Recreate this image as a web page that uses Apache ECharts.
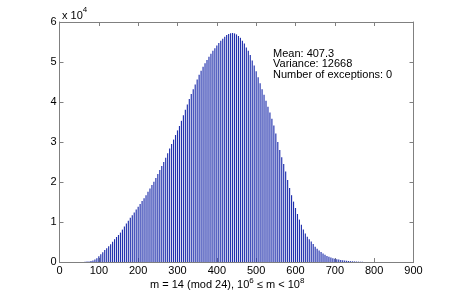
<!DOCTYPE html>
<html><head><meta charset="utf-8">
<script src="https://cdn.jsdelivr.net/npm/echarts@6/dist/echarts.min.js"></script>
<style>html,body{margin:0;padding:0;background:#fff}#c{width:457px;height:294px}</style>
</head><body><div id="c"></div>
<script>
const binStart = 60;
const binStep = 5;
const counts = [
0,50,100,150,250,400,600,950,1450,1950,2450,3000,3450,3950,4450,5050,5700,6250,6750,7350,
8100,8900,9600,10300,11050,11700,12400,13100,13800,14500,15250,15950,16700,17550,18400,19250,
20050,21000,22000,23000,24000,25000,26050,27200,28400,29500,30600,31750,32900,34000,35300,36700,
38050,39400,40750,42000,43200,44400,45600,46800,47800,48800,49700,50500,51300,52050,52800,53450,
54100,54750,55300,55800,56300,56750,57000,57200,57250,57150,56900,56500,56050,55300,54600,53600,
52800,51750,50400,49100,47700,46200,44700,43200,41800,40300,38800,37400,35800,34100,32100,30000,
28000,26200,24500,22600,20500,18500,16700,15100,13500,12000,10600,9300,8100,7100,6300,5700,5100,
4500,3800,3300,2900,2500,2150,1800,1500,1300,1100,950,800,700,600,500,420,350,300,250,200,170,
140,110,90,70,50,30,20
];
const xTicks = [0,100,200,300,400,500,600,700,800,900];
const yTicks = [0,1,2,3,4,5,6];
const statsLines = ['Mean: 407.3','Variance: 12668','Number of exceptions: 0'];

const data = counts.map((c,i)=>[binStart+i*binStep, c]);
const font = 'Liberation Sans, Arial, Helvetica, sans-serif';
const axisCol = '#808080';
const chart = echarts.init(document.getElementById('c'));
const baseX = {type:'value', min:0, max:900, interval:100, splitLine:{show:false},
  axisLine:{show:true, onZero:false, lineStyle:{color:axisCol}},
  axisTick:{inside:true, length:4, lineStyle:{color:axisCol}}};
const baseY = {type:'value', min:0, max:60000, interval:10000, splitLine:{show:false},
  axisLine:{show:true, onZero:false, lineStyle:{color:axisCol}},
  axisTick:{inside:true, length:4, lineStyle:{color:axisCol}}};
chart.setOption({
  animation:false,
  grid:{left:59.5, right:43.5, top:22, bottom:32},
  xAxis:[
    Object.assign({}, baseX, {position:'bottom',
      axisLabel:{color:'#000', fontSize:11, fontFamily:font, margin:3,
        formatter:v=>xTicks.includes(v)?String(v):''}}),
    Object.assign({}, baseX, {position:'top', axisLabel:{show:false}})
  ],
  yAxis:[
    Object.assign({}, baseY, {position:'left',
      axisLabel:{color:'#000', fontSize:11, fontFamily:font, margin:3,
        formatter:v=>String(yTicks[Math.round(v/10000)])}}),
    Object.assign({}, baseY, {position:'right', axisLabel:{show:false}})
  ],
  series:[{type:'bar', data:data, barWidth:1.15, xAxisIndex:0, yAxisIndex:0,
    itemStyle:{color:'#2030ad'}, large:false}],
  graphic:[
    {type:'text', left:62, top:6, style:{text:'{a|x 10}{s|4}', fontFamily:font,
      rich:{a:{fontSize:11, fontFamily:font, fill:'#000', padding:[4,0,0,0]}, s:{fontSize:8, fontFamily:font, fill:'#000', verticalAlign:'top', padding:[0,0,6,0]}}}},
    {type:'text', left:273, top:48, style:{text:statsLines.join('\n'), fontSize:11, lineHeight:10.8, fontFamily:font, fill:'#000'}},
    {type:'text', left:150, top:277, style:{text:'{a|m = 14 (mod 24), 10}{s|6}{a| ≤ m < 10}{s|8}', fontFamily:font,
      rich:{a:{fontSize:11, fontFamily:font, fill:'#000'}, s:{fontSize:8, fontFamily:font, fill:'#000', padding:[0,0,8,0]}}}}
  ]
});
</script></body></html>
